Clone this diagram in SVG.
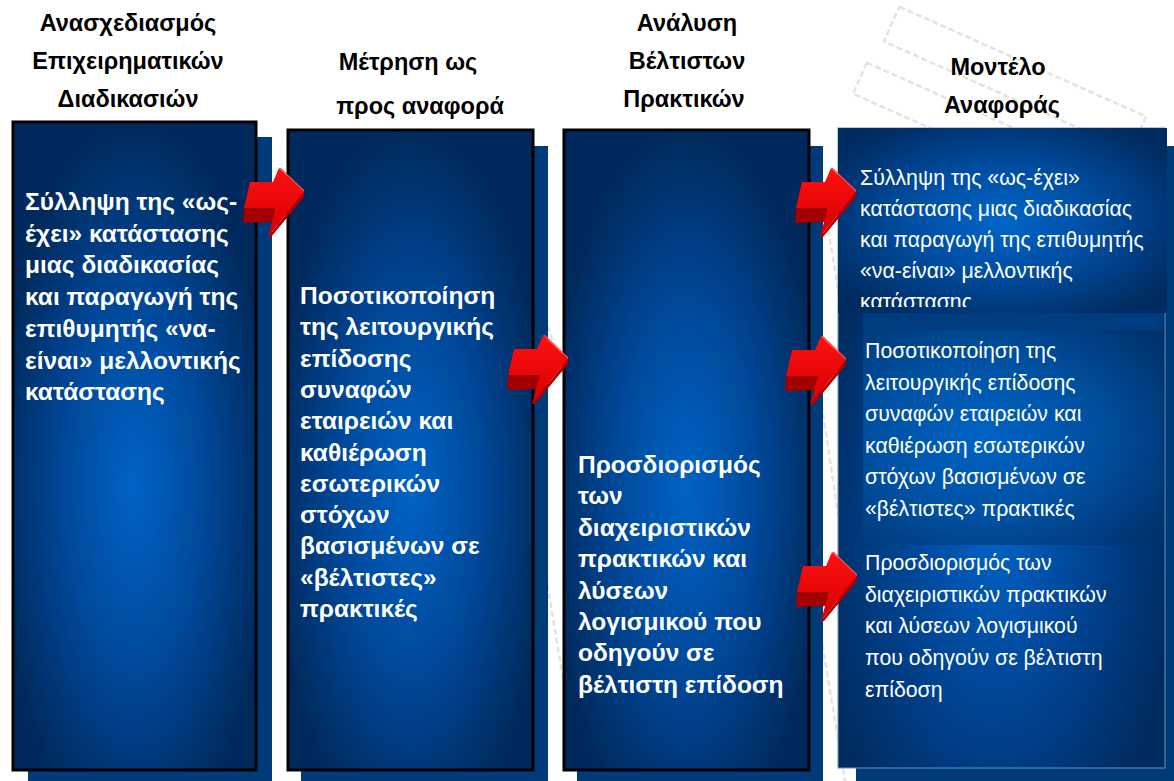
<svg xmlns="http://www.w3.org/2000/svg" xmlns:xlink="http://www.w3.org/1999/xlink" width="1174" height="781" viewBox="0 0 1174 781">
  <defs>
    <style>
      .head { font-family: "Liberation Sans", Arial, sans-serif; font-weight: bold; font-size: 23.5px; fill: #000; text-anchor: middle; }
      .body { font-family: "Liberation Sans", Arial, sans-serif; font-weight: bold; font-size: 24.5px; fill: #fff; }
      .note { font-family: "Liberation Sans", Arial, sans-serif; font-size: 21.3px; fill: #fff; }
      .shadow { fill: #003b79; }
      .card { stroke: #000; stroke-width: 3; }
      .sketch { fill: none; stroke: #e3e3e3; stroke-width: 2.5; stroke-dasharray: 6 3; }
    </style>
    <radialGradient id="cardFill" cx="0.5" cy="0.56" r="0.56">
      <stop offset="0" stop-color="#0063c5"/>
      <stop offset="0.5" stop-color="#00499b"/>
      <stop offset="1" stop-color="#002a5d"/>
    </radialGradient>
    <radialGradient id="refFill" cx="0.48" cy="0.62" r="0.55">
      <stop offset="0" stop-color="#0064c6"/>
      <stop offset="0.45" stop-color="#00489a"/>
      <stop offset="1" stop-color="#002c62"/>
    </radialGradient>
    <radialGradient id="panelFill" cx="0.5" cy="0.5" r="0.6">
      <stop offset="0" stop-color="#0066c8"/>
      <stop offset="0.5" stop-color="#004c9f"/>
      <stop offset="1" stop-color="#002c62"/>
    </radialGradient>
    <radialGradient id="bandFill" cx="0.4" cy="0.5" r="0.7">
      <stop offset="0" stop-color="#0064c6"/>
      <stop offset="0.55" stop-color="#004f9f"/>
      <stop offset="1" stop-color="#003470"/>
    </radialGradient>
    <linearGradient id="arrowFace" x1="0" y1="0" x2="0" y2="1">
      <stop offset="0" stop-color="#ff1010"/>
      <stop offset="1" stop-color="#d40000"/>
    </linearGradient>
    <clipPath id="panelClip">
      <rect x="838" y="128" width="329" height="179"/>
    </clipPath>
    <!-- extruded 3D block arrow pointing right -->
    <g id="arrow">
      <polygon points="1,40 33,40 31,54 0,55" fill="#a30000"/>
      <polygon points="7,14 30,14 36,0 61,24 25,69 31,47 33,40 1,40" fill="url(#arrowFace)"/>
      <polygon points="61,24 61,29 28,69 25,69" fill="#b30000"/>
      <polygon points="36,0 38,0 61,22 61,24" fill="#ff4a4a"/>
    </g>
  </defs>

  <rect width="1174" height="781" fill="#fff"/>

  <!-- faint pencil sketch in the background -->
  <g id="backdrop">
    <rect class="sketch" x="880" y="60" width="270" height="38" transform="rotate(24 1015 79)"/>
    <rect class="sketch" x="850" y="108" width="230" height="34" transform="rotate(24 965 125)"/>
    <line class="sketch" x1="540" y1="300" x2="580" y2="430"/>
    <line class="sketch" x1="540" y1="540" x2="580" y2="781"/>
    <line class="sketch" x1="815" y1="150" x2="845" y2="330"/>
    <line class="sketch" x1="815" y1="360" x2="845" y2="560"/>
    <line class="sketch" x1="815" y1="600" x2="845" y2="781"/>
  </g>

  <!-- column headings -->
  <g id="headings">
    <text class="head" x="128" y="31">Ανασχεδιασμός</text>
    <text class="head" x="128" y="69">Επιχειρηματικών</text>
    <text class="head" x="128" y="107">Διαδικασιών</text>
    <text class="head" x="408" y="70">Μέτρηση ως</text>
    <text class="head" x="420" y="114">προς αναφορά</text>
    <text class="head" x="687" y="31">Ανάλυση</text>
    <text class="head" x="687" y="69">Βέλτιστων</text>
    <text class="head" x="684" y="107">Πρακτικών</text>
    <text class="head" x="998" y="75">Μοντέλο</text>
    <text class="head" x="1002" y="113">Αναφοράς</text>
  </g>

  <g id="node-redesign">
    <rect class="shadow" x="28" y="137" width="244" height="650"/>
    <rect class="card" x="13" y="122" width="243" height="648" fill="url(#cardFill)"/>
    <text class="body" x="25">
      <tspan x="25" y="210">Σύλληψη της «ως-</tspan>
      <tspan x="25" y="241.7">έχει» κατάστασης</tspan>
      <tspan x="25" y="273.4">μιας διαδικασίας</tspan>
      <tspan x="25" y="305.1">και παραγωγή της</tspan>
      <tspan x="25" y="336.8">επιθυμητής «να-</tspan>
      <tspan x="25" y="368.5">είναι» μελλοντικής</tspan>
      <tspan x="25" y="400.2">κατάστασης</tspan>
    </text>
  </g>

  <g id="node-benchmark">
    <rect class="shadow" x="301" y="146" width="247" height="640"/>
    <rect class="card" x="288" y="130" width="245" height="640" fill="url(#cardFill)"/>
    <text class="body">
      <tspan x="300" y="304">Ποσοτικοποίηση</tspan>
      <tspan x="300" y="335.3">της λειτουργικής</tspan>
      <tspan x="300" y="366.6">επίδοσης</tspan>
      <tspan x="300" y="397.9">συναφών</tspan>
      <tspan x="300" y="429.2">εταιρειών και</tspan>
      <tspan x="300" y="460.5">καθιέρωση</tspan>
      <tspan x="300" y="491.8">εσωτερικών</tspan>
      <tspan x="300" y="523.1">στόχων</tspan>
      <tspan x="300" y="554.4">βασισμένων σε</tspan>
      <tspan x="300" y="585.7">«βέλτιστες»</tspan>
      <tspan x="300" y="617">πρακτικές</tspan>
    </text>
  </g>

  <g id="node-best-practice">
    <rect class="shadow" x="577" y="146" width="246" height="640"/>
    <rect class="card" x="564" y="130" width="245" height="640" fill="url(#cardFill)"/>
    <text class="body">
      <tspan x="578" y="473">Προσδιορισμός</tspan>
      <tspan x="578" y="504.4">των</tspan>
      <tspan x="578" y="535.8">διαχειριστικών</tspan>
      <tspan x="578" y="567.2">πρακτικών και</tspan>
      <tspan x="578" y="598.6">λύσεων</tspan>
      <tspan x="578" y="630">λογισμικού που</tspan>
      <tspan x="578" y="661.4">οδηγούν σε</tspan>
      <tspan x="578" y="692.8">βέλτιστη επίδοση</tspan>
    </text>
  </g>

  <g id="node-reference-model">
    <rect class="shadow" x="856" y="146" width="318" height="640"/>
    <rect x="838" y="128" width="327" height="640" fill="url(#refFill)" stroke="#6f8fbb" stroke-width="1"/>
    <rect x="838" y="128" width="329" height="185" fill="url(#panelFill)"/>
    <rect x="863" y="313" width="300" height="17" fill="#003d7e"/>
    <rect x="863" y="330" width="300" height="215" fill="url(#bandFill)"/>
    <text class="note" clip-path="url(#panelClip)">
      <tspan x="860" y="185">Σύλληψη της «ως-έχει»</tspan>
      <tspan x="860" y="216">κατάστασης μιας διαδικασίας</tspan>
      <tspan x="860" y="247">και παραγωγή της επιθυμητής</tspan>
      <tspan x="860" y="278">«να-είναι» μελλοντικής</tspan>
      <tspan x="860" y="309">κατάστασης</tspan>
    </text>
    <text class="note">
      <tspan x="865" y="358">Ποσοτικοποίηση της</tspan>
      <tspan x="865" y="389.5">λειτουργικής επίδοσης</tspan>
      <tspan x="865" y="421">συναφών εταιρειών και</tspan>
      <tspan x="865" y="452.5">καθιέρωση εσωτερικών</tspan>
      <tspan x="865" y="484">στόχων βασισμένων σε</tspan>
      <tspan x="865" y="515.5">«βέλτιστες» πρακτικές</tspan>
    </text>
    <text class="note">
      <tspan x="865" y="570">Προσδιορισμός των</tspan>
      <tspan x="865" y="601.7">διαχειριστικών πρακτικών</tspan>
      <tspan x="865" y="633.4">και λύσεων λογισμικού</tspan>
      <tspan x="865" y="665.1">που οδηγούν σε βέλτιστη</tspan>
      <tspan x="865" y="696.8">επίδοση</tspan>
    </text>
  </g>

  <g id="connectors">
    <use xlink:href="#arrow" x="243" y="168"/>
    <use xlink:href="#arrow" x="507" y="335"/>
    <use xlink:href="#arrow" x="795" y="168"/>
    <use xlink:href="#arrow" x="785" y="336"/>
    <use xlink:href="#arrow" x="796" y="552"/>
  </g>
</svg>
